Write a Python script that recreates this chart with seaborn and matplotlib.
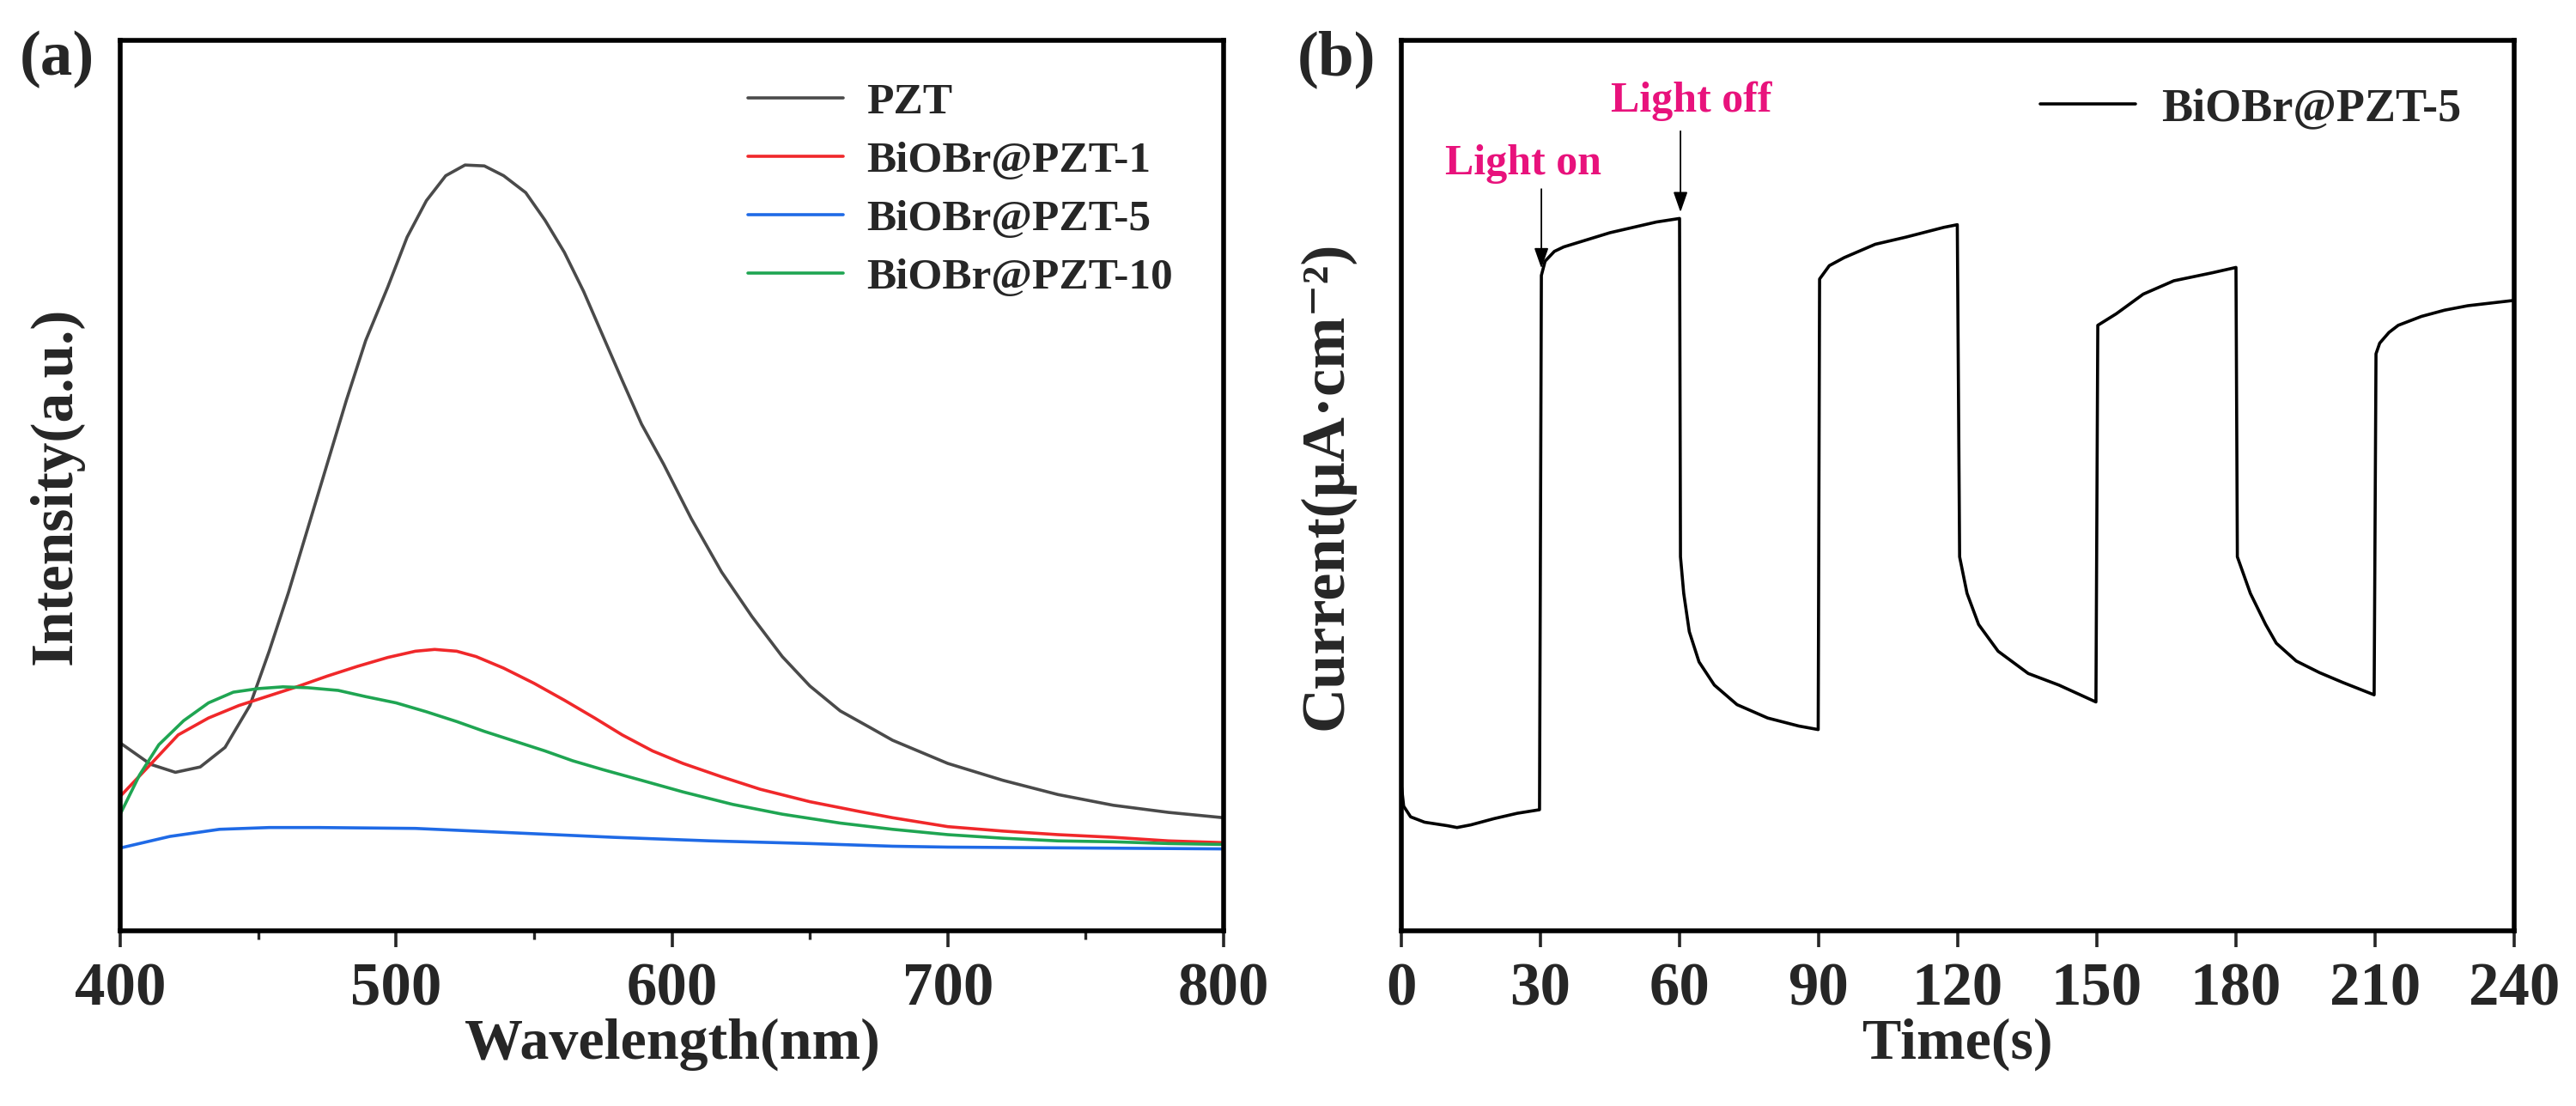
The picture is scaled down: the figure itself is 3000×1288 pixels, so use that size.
import numpy as np
import pandas as pd
import seaborn as sns
import matplotlib.pyplot as plt
import matplotlib.transforms as mtransforms

# ---- data ----
# panel (a): PL spectra, intensity as fraction of the axis height
wl_pzt = [400, 411, 420, 429, 438, 447, 454, 461, 468, 475, 482, 489, 497, 504, 511, 518,
          525, 532, 539, 547, 554, 561, 568, 575, 582, 589, 597, 607, 618, 629, 640, 650,
          661, 672, 680, 700, 720, 740, 760, 780, 800]
int_pzt = [0.211, 0.187, 0.178, 0.184, 0.206, 0.253, 0.314, 0.380, 0.452, 0.524, 0.596,
           0.663, 0.723, 0.779, 0.820, 0.848, 0.860, 0.859, 0.848, 0.829, 0.798, 0.762,
           0.718, 0.668, 0.618, 0.569, 0.524, 0.463, 0.403, 0.353, 0.308, 0.275, 0.247,
           0.228, 0.214, 0.188, 0.169, 0.153, 0.141, 0.133, 0.127]

wl_p1 = [400, 411, 421, 432, 443, 454, 464, 475, 486, 497, 507, 514, 522, 529, 539, 550,
         561, 572, 582, 593, 604, 618, 632, 650, 668, 680, 700, 720, 740, 760, 780, 800]
int_p1 = [0.151, 0.187, 0.220, 0.239, 0.253, 0.264, 0.274, 0.286, 0.297, 0.307, 0.314,
          0.316, 0.314, 0.308, 0.295, 0.278, 0.259, 0.239, 0.220, 0.202, 0.188, 0.173,
          0.159, 0.145, 0.134, 0.127, 0.117, 0.112, 0.108, 0.105, 0.101, 0.099]

wl_p5 = [400, 418, 436, 454, 472, 507, 543, 579, 614, 650, 680, 700, 750, 800]
int_p5 = [0.093, 0.106, 0.114, 0.116, 0.116, 0.115, 0.110, 0.105, 0.101, 0.098, 0.095,
          0.094, 0.093, 0.092]

wl_p10 = [400, 407, 414, 423, 432, 441, 450, 459, 468, 479, 489, 500, 511, 522, 532, 543,
          554, 564, 575, 589, 604, 622, 640, 661, 680, 700, 720, 740, 760, 780, 800]
int_p10 = [0.131, 0.175, 0.209, 0.236, 0.256, 0.268, 0.272, 0.274, 0.273, 0.270, 0.263,
           0.256, 0.246, 0.235, 0.224, 0.213, 0.202, 0.191, 0.181, 0.169, 0.156, 0.142,
           0.131, 0.121, 0.114, 0.108, 0.104, 0.101, 0.100, 0.098, 0.097]

series_names = ["PZT", "BiOBr@PZT-1", "BiOBr@PZT-5", "BiOBr@PZT-10"]
series_colors = ["#4a4a4a", "#f0282a", "#1f6ae6", "#1fa552"]

# panel (b): transient photocurrent, fraction of the axis height
time_s = [0, 0.5, 2, 5, 10, 12, 15, 20, 25, 29.8,
          30.2, 31, 33, 35, 40, 45, 50, 55, 60.0,
          60.2, 60.9, 62.1, 64.2, 67.5, 72.4, 79, 85.7, 89.9,
          90.2, 92.3, 95.5, 102.2, 108.8, 117, 119.9,
          120.4, 122, 124.5, 128.7, 135.2, 141.8, 149.8,
          150.2, 154.2, 160, 166.6, 174.9, 180.0,
          180.3, 183.1, 186.4, 188.7, 193, 198, 203, 209.8,
          210.2, 211, 213, 215, 220, 225, 230, 235, 240]
current = [0.164, 0.140, 0.128, 0.122, 0.118, 0.116, 0.119, 0.126, 0.132, 0.136,
           0.736, 0.752, 0.763, 0.768, 0.776, 0.784, 0.790, 0.796, 0.800,
           0.420, 0.379, 0.336, 0.302, 0.276, 0.254, 0.239, 0.230, 0.226,
           0.732, 0.747, 0.756, 0.771, 0.779, 0.790, 0.793,
           0.420, 0.379, 0.344, 0.314, 0.289, 0.276, 0.257,
           0.680, 0.693, 0.715, 0.730, 0.739, 0.745,
           0.420, 0.379, 0.344, 0.323, 0.303, 0.290, 0.279, 0.265,
           0.648, 0.660, 0.672, 0.680, 0.690, 0.697, 0.702, 0.705, 0.708]

# ---- style ----
sns.set_style("ticks")
plt.rcParams['font.family'] = ['Liberation Serif', 'DejaVu Serif']
plt.rcParams['font.weight'] = 'bold'
plt.rcParams['axes.labelweight'] = 'bold'
plt.rcParams['axes.edgecolor'] = 'black'

fig = plt.figure(figsize=(30, 12.88), dpi=100)
ax1 = fig.add_axes([0.04667, 0.15839, 0.42833, 0.80512])
ax2 = fig.add_axes([0.544, 0.15839, 0.432, 0.80512])

# ---- panel (a) ----
spectra = pd.concat([
    pd.DataFrame({"wl": wl_pzt, "I": int_pzt, "sample": series_names[0]}),
    pd.DataFrame({"wl": wl_p1, "I": int_p1, "sample": series_names[1]}),
    pd.DataFrame({"wl": wl_p5, "I": int_p5, "sample": series_names[2]}),
    pd.DataFrame({"wl": wl_p10, "I": int_p10, "sample": series_names[3]}),
])
sns.lineplot(data=spectra, x="wl", y="I", hue="sample", hue_order=series_names,
             palette=series_colors, estimator=None, linewidth=2.6, ax=ax1)
ax1.set_xlim(400, 800)
ax1.set_ylim(0, 1)
ax1.set_xticks([400, 500, 600, 700, 800])
ax1.set_xticks([450, 550, 650, 750], minor=True)
ax1.set_yticks([])
ax1.set_xlabel("Wavelength(nm)", fontsize=49, labelpad=0)
ax1.set_ylabel("Intensity(a.u.)", fontsize=50)
ax1.yaxis.set_label_coords(-0.033, 0.5)
ax1.legend(title=None, frameon=False, fontsize=37, loc="upper left",
           bbox_to_anchor=(0.569, 0.953), borderaxespad=0, borderpad=0,
           handlelength=2.16, handletextpad=0.53, labelspacing=0.41)

# ---- panel (b) ----
photo = pd.DataFrame({"t": time_s, "j": current})
sns.lineplot(data=photo, x="t", y="j", color="black", linewidth=2.6,
             estimator=None, label="BiOBr@PZT-5", ax=ax2)
ax2.set_xlim(0, 240)
ax2.set_ylim(0, 1)
ax2.set_xticks(np.arange(0, 241, 30))
ax2.set_yticks([])
ax2.set_xlabel("Time(s)", fontsize=49, labelpad=0)
ax2.set_ylabel("Current(μA·cm⁻²)", fontsize=52)
ax2.yaxis.set_label_coords(-0.042, 0.5)
ax2.legend(frameon=False, fontsize=39, loc="upper left",
           bbox_to_anchor=(0.574, 0.947), borderaxespad=0, borderpad=0,
           handlelength=2.05, handletextpad=0.55)

pink = "#e8127c"
blend = mtransforms.blended_transform_factory(ax2.transData, ax2.transAxes)
arrow = dict(arrowstyle="-|>,head_length=0.4,head_width=0.14", color="black",
             lw=1.3, mutation_scale=36, shrinkA=0, shrinkB=0)
ax2.annotate("", xy=(30.2, 0.744), xytext=(30.2, 0.833), xycoords=blend,
             textcoords=blend, arrowprops=arrow)
ax2.annotate("", xy=(60.2, 0.807), xytext=(60.2, 0.898), xycoords=blend,
             textcoords=blend, arrowprops=arrow)
ax2.text(26.3, 0.861, "Light on", transform=blend, color=pink, fontsize=36,
         ha="center", va="center")
ax2.text(62.6, 0.932, "Light off", transform=blend, color=pink, fontsize=36,
         ha="center", va="center")

for ax in (ax1, ax2):
    ax.tick_params(axis="x", which="major", direction="out", length=14, width=2.6,
                   labelsize=51, pad=12)
    ax.tick_params(axis="x", which="minor", direction="out", length=7, width=2.4)
    for sp in ax.spines.values():
        sp.set_visible(True)
        sp.set_linewidth(4)

fig.text(0.0077, 0.9464, "(a)", fontsize=54, ha="left", va="center")
fig.text(0.5037, 0.9464, "(b)", fontsize=54, ha="left", va="center")

fig.savefig("out.png", dpi=100)
